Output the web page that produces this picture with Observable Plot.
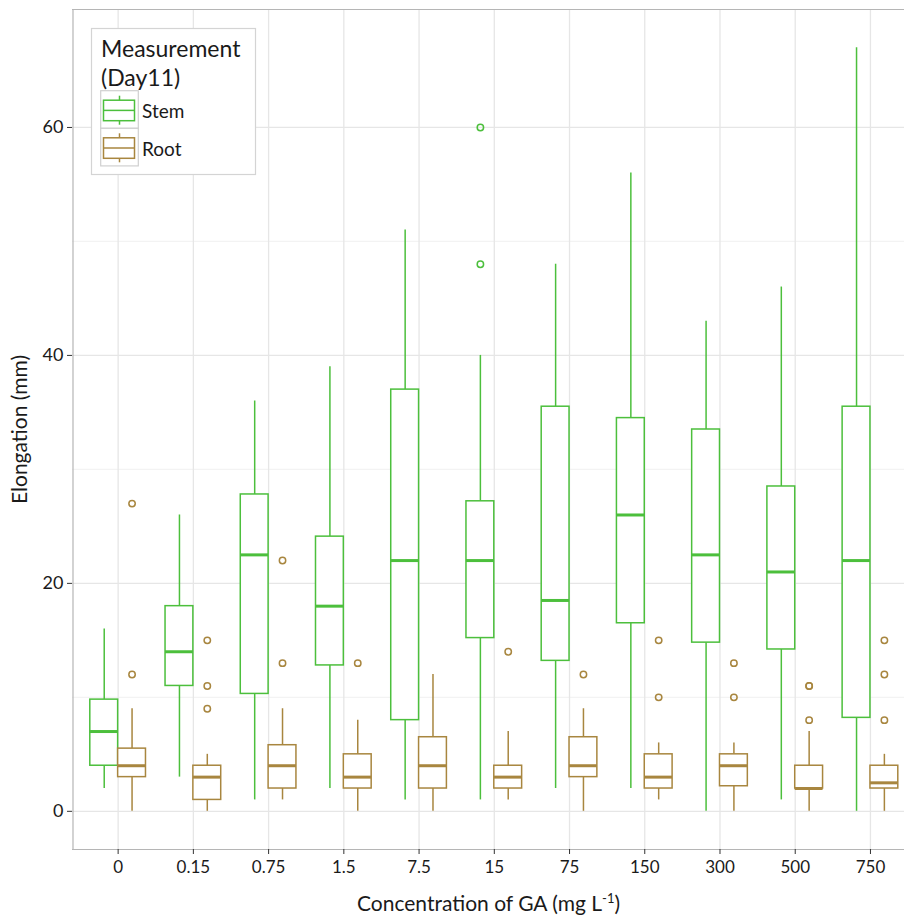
<!DOCTYPE html>
<html><head><meta charset="utf-8">
<script src="https://cdn.jsdelivr.net/npm/d3@7"></script>
<script src="https://cdn.jsdelivr.net/npm/@observablehq/plot@0.6"></script>
<style>
html,body{margin:0;padding:0;background:#fff;overflow:hidden;}
#wrap{position:relative;width:904px;height:919px;overflow:hidden;font-family:Lato,sans-serif;}
#legend{position:absolute;left:0;top:0;pointer-events:none;}
</style></head><body><div id="wrap"></div>
<script>
const categories = ["0","0.15","0.75","1.5","7.5","15","75","150","300","500","750"];
const measurements = ["Stem","Root"];
const colors = ["#4cbf3c","#a8863f"];
// Stem (Day11) box statistics per concentration
const stemLow    = [2, 3, 1, 2, 1, 1, 2, 2, 0, 1, 0];
const stemQ1     = [4, 11, 10.3, 12.8, 8, 15.2, 13.2, 16.5, 14.8, 14.2, 8.2];
const stemMedian = [7, 14, 22.5, 18, 22, 22, 18.5, 26, 22.5, 21, 22];
const stemQ3     = [9.8, 18, 27.8, 24.1, 37, 27.2, 35.5, 34.5, 33.5, 28.5, 35.5];
const stemHigh   = [16, 26, 36, 39, 51, 40, 48, 56, 43, 46, 67];
const stemOutliers = [[], [], [], [], [], [60, 48], [], [], [], [], []];
// Root (Day11) box statistics per concentration
const rootLow    = [0, 0, 1, 0, 0, 1, 0, 1, 0, 0, 0];
const rootQ1     = [3, 1, 2, 2, 2, 2, 3, 2, 2.2, 2, 2];
const rootMedian = [4, 3, 4, 3, 4, 3, 4, 3, 4, 2, 2.5];
const rootQ3     = [5.5, 4, 5.8, 5, 6.5, 4, 6.5, 5, 5, 4, 4];
const rootHigh   = [9, 5, 9, 8, 12, 7, 9, 6, 6, 7, 5];
const rootOutliers = [[27, 12], [15, 11, 9], [22, 13], [13], [], [14], [12], [15, 10], [13, 10], [11, 11, 8], [15, 12, 8]];

const yTicks = [0, 20, 40, 60];
const yMinor = [10, 30, 50];
const xLabel = "Concentration of GA (mg L-1)";
const yLabel = "Elongation (mm)";

const halfW = 0.37; // dodged box width (in category units)
const series = [
  {name: "Stem", low: stemLow, q1: stemQ1, med: stemMedian, q3: stemQ3, high: stemHigh, out: stemOutliers, side: -1},
  {name: "Root", low: rootLow, q1: rootQ1, med: rootMedian, q3: rootQ3, high: rootHigh, out: rootOutliers, side: 1}
];
const boxes = [], outliers = [];
for (const s of series) {
  categories.forEach((c, i) => {
    const x1 = s.side < 0 ? i - halfW : i;
    const x2 = x1 + halfW;
    const xc = (x1 + x2) / 2;
    boxes.push({m: s.name, i, x1, x2, xc, low: s.low[i], q1: s.q1[i], med: s.med[i], q3: s.q3[i], high: s.high[i]});
    for (const v of s.out[i]) outliers.push({m: s.name, xc, v});
  });
}
const yMax = 67, yMinV = 0, pad = (yMax - yMinV) * 0.05;
const yDomain = [yMinV - pad, yMax + pad];
const xDomain = [-0.6, categories.length - 1 + 0.6];

const chart = Plot.plot({
  width: 904, height: 919,
  marginLeft: 72, marginRight: 0, marginTop: 9, marginBottom: 70,
  style: {fontFamily: "Lato, sans-serif", fontSize: "17px", color: "#1a1a1a", background: "#fff"},
  x: {type: "linear", domain: xDomain, range: [72.5, 915.1]},
  y: {domain: yDomain},
  color: {domain: measurements, range: colors},
  marks: [
    Plot.gridY(yMinor, {stroke: "#f3f3f3", strokeOpacity: 1, strokeWidth: 1.2}),
    Plot.gridY(yTicks, {stroke: "#e6e6e6", strokeOpacity: 1, strokeWidth: 1.3}),
    Plot.gridX(d3.range(categories.length), {stroke: "#e6e6e6", strokeOpacity: 1, strokeWidth: 1.3}),
    Plot.ruleY([yDomain[0], yDomain[1]], {stroke: "#b5b5b5", strokeWidth: 1.2}),
    Plot.ruleX([xDomain[0]], {stroke: "#b5b5b5", strokeWidth: 1.2}),
    Plot.ruleX(boxes, {x: "xc", y1: "low", y2: "q1", stroke: "m", strokeWidth: 1.5}),
    Plot.ruleX(boxes, {x: "xc", y1: "q3", y2: "high", stroke: "m", strokeWidth: 1.5}),
    Plot.rect(boxes, {x1: "x1", x2: "x2", y1: "q1", y2: "q3", fill: "white", stroke: "m", strokeWidth: 1.5}),
    Plot.ruleY(boxes, {y: "med", x1: "x1", x2: "x2", stroke: "m", strokeWidth: 3}),
    Plot.dot(outliers, {x: "xc", y: "v", r: 3.2, stroke: "m", strokeWidth: 1.5, fill: "none"}),
    Plot.axisY({ticks: yTicks, tickSize: 5, tickPadding: 4, fontSize: 18, stroke: "#333", fill: "#1a1a1a",
      label: yLabel, labelAnchor: "center", labelOffset: 60, labelArrow: "none"}),
    Plot.axisX({ticks: d3.range(categories.length), tickFormat: i => categories[i], tickSize: 5, tickPadding: 6,
      fontSize: 17, stroke: "#333", fill: "#1a1a1a", label: xLabel, labelAnchor: "center", labelOffset: 61, labelArrow: "none"})
  ]
});
document.getElementById("wrap").appendChild(chart);

// axis label sizes and superscript
chart.querySelectorAll("text").forEach(t => {
  if (t.textContent === yLabel) { t.setAttribute("font-size", 21); }
  if (t.textContent === xLabel) {
    t.setAttribute("font-size", 21);
    t.textContent = "Concentration of GA (mg L";
    const sup = document.createElementNS("http://www.w3.org/2000/svg", "tspan");
    sup.setAttribute("dy", "-8"); sup.setAttribute("font-size", "13"); sup.textContent = "-1";
    const close = document.createElementNS("http://www.w3.org/2000/svg", "tspan");
    close.setAttribute("dy", "8"); close.textContent = ")";
    t.appendChild(sup); t.appendChild(close);
  }
});

// legend (ggplot-style, inside panel)
const color = chart.scale("color");
const lg = d3.select("#wrap").append("svg").attr("id", "legend").attr("width", 300).attr("height", 200)
  .style("font-family", "Lato, sans-serif");
lg.append("rect").attr("x", 91.5).attr("y", 28.5).attr("width", 164).attr("height", 146)
  .attr("fill", "#fff").attr("stroke", "#d4d4d4").attr("stroke-width", 1.2);
lg.append("text").attr("x", 101).attr("y", 57).attr("font-size", 23).attr("fill", "#1a1a1a").text("Measurement");
lg.append("text").attr("x", 101).attr("y", 86).attr("font-size", 23).attr("fill", "#1a1a1a").text("(Day11)");
color.domain.forEach((m, k) => {
  const y0 = 90.7 + k * 37.6;
  const c = color.apply(m);
  lg.append("rect").attr("x", 100.7).attr("y", y0).attr("width", 37.6).attr("height", 37.6)
    .attr("fill", "#fff").attr("stroke", "#d0d0d0").attr("stroke-width", 1.2);
  lg.append("line").attr("x1", 119.5).attr("x2", 119.5).attr("y1", y0 + 5).attr("y2", y0 + 34)
    .attr("stroke", c).attr("stroke-width", 1.5);
  lg.append("rect").attr("x", 103.5).attr("y", y0 + 9.5).attr("width", 31).attr("height", 20.5)
    .attr("fill", "#fff").attr("stroke", c).attr("stroke-width", 1.5);
  lg.append("line").attr("x1", 103.5).attr("x2", 134.5).attr("y1", y0 + 19.7).attr("y2", y0 + 19.7)
    .attr("stroke", c).attr("stroke-width", 1.5);
  lg.append("text").attr("x", 142).attr("y", y0 + 27.5).attr("font-size", 19).attr("fill", "#1a1a1a").text(m);
});
</script></body></html>
